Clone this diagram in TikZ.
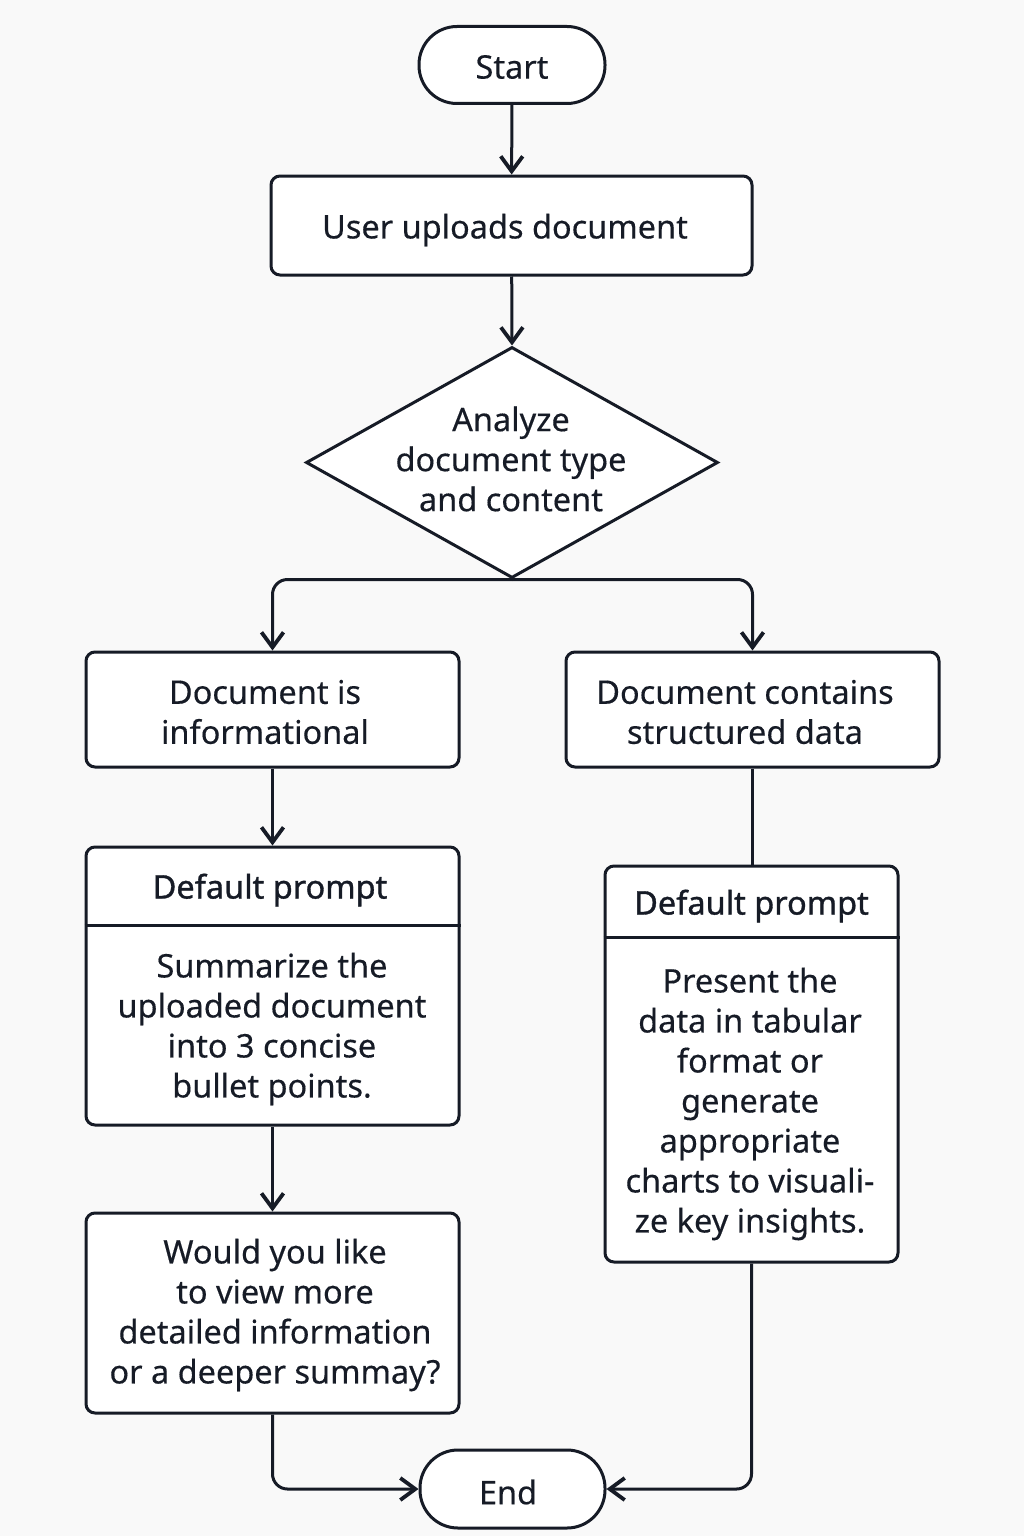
\documentclass[tikz,border=0pt]{standalone}
\usepackage{fontspec}
\setmainfont[FakeBold=0.35]{Noto Sans}
\newfontfamily\headfont[FakeBold=1.0]{Noto Sans}
\usetikzlibrary{arrows.meta,shapes.geometric}
\definecolor{bg}{RGB}{249,249,249}
\definecolor{ink}{RGB}{22,27,38}
\begin{document}
\begin{tikzpicture}[x=1pt,y=-1pt,
  every node/.style={font=\fontsize{32.5}{40}\selectfont, text=ink, align=center, inner sep=0pt},
  box/.style={draw=ink, line width=3pt, fill=white, rounded corners=9pt},
  term/.style={draw=ink, line width=3pt, fill=white, rounded corners=38pt},
  dia/.style={diamond, draw=ink, line width=3pt, fill=white},
  head/.style={font=\headfont\fontsize{32.5}{40}\selectfont},
  frame/.style={draw=ink, line width=3pt},
  conn/.style={draw=ink, line width=3pt, rounded corners=15pt},
  arr/.style={-{Straight Barb[length=15pt,width=22pt,line width=3.8pt]}}]
\fill[bg] (0,0) rectangle (1024,1536);
\useasboundingbox (0,0) rectangle (1024,1536);

\node[term, minimum width=186, minimum height=77] (start) at (512,65) {};
\node (startt) at (512,67) {Start};
\node[box, minimum width=481, minimum height=99] (b1) at (511.5,225.5) {};
\node (b1t) at (505,230) {User uploads document};
\node[dia, minimum width=412, minimum height=231] (dia) at (512,462.5) {};
\node (diat) at (511,459) {Analyze\\document type\\and content};
\node[box, minimum width=373, minimum height=115] (b2) at (272.5,709.5) {};
\node (b2t) at (265,712) {Document is\\informational};
\node[box, minimum width=373, minimum height=115] (b3) at (752.5,709.5) {};
\node (b3t) at (745,712) {Document contains\\structured data};

\node[box, minimum width=373, minimum height=278] (p1) at (272.5,986) {};
\draw[frame] ([yshift=-80pt]p1.north west) -- ([yshift=-80pt]p1.north east);
\node[head] (p1h) at (270,890) {Default prompt};
\node (p1b) at (272,1029) {Summarize the\\uploaded document\\into 3 concise\\bullet points.};

\node[box, minimum width=293, minimum height=396] (p2) at (751.5,1064) {};
\draw[frame] ([yshift=-73pt]p2.north west) -- ([yshift=-73pt]p2.north east);
\node[head] (p2h) at (751.5,906) {Default prompt};
\node (p2b) at (750,1104) {Present the\\data in tabular\\format or\\generate\\appropriate\\charts to visuali-\\ze key insights.};

\node[box, minimum width=373, minimum height=200] (b6) at (272.5,1313) {};
\node (b6t) at (275,1315) {Would you like\\to view more\\detailed information\\or a deeper summay?};
\node[term, minimum width=185, minimum height=78] (end) at (512.5,1489) {};
\node (endt) at (508,1492) {End};

\draw[conn,arr] (start) -- (b1);
\draw[conn,arr] (b1) -- (dia.north);
\draw[conn,arr] (dia.south) -| (b2.north);
\draw[conn,arr] (dia.south) -| (b3.north);
\draw[conn,arr] (b2) -- (p1);
\draw[conn] (b3.south) -- (b3.south |- p2.north);
\draw[conn,arr] (p1) -- (b6);
\draw[conn,arr] (b6.south) |- (end.west);
\draw[conn,arr] (p2.south) |- (end.east);
\end{tikzpicture}
\end{document}
